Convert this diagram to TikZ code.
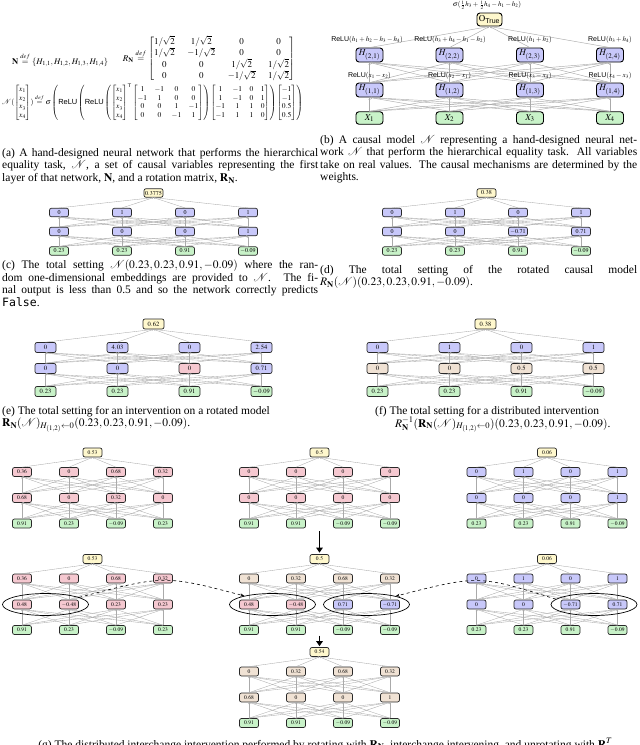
\documentclass[tikz,border=0pt]{standalone}
\usepackage{amsmath}
\usepackage{mathptmx}
\usepackage{fontspec}
\setmainfont{Liberation Serif}
\setsansfont{Liberation Sans}
\setmonofont{DejaVu Sans Mono}
\usetikzlibrary{arrows.meta,shapes.geometric}
\definecolor{cblue}{RGB}{200,200,250}
\definecolor{cgreen}{RGB}{200,242,200}
\definecolor{cyellow}{RGB}{255,248,205}
\definecolor{cpink}{RGB}{245,200,208}
\definecolor{ctan}{RGB}{240,226,212}
\definecolor{cedge}{RGB}{170,170,170}
\definecolor{cborder}{RGB}{40,40,40}
\tikzset{
  nbase/.style={draw=cborder, line width=0.7pt, rounded corners=2pt, inner sep=1pt},
  ndC/.style={nbase, font=\fontsize{6}{6}\selectfont, minimum width=19pt, minimum height=8.5pt},
  ndE/.style={nbase, font=\fontsize{6.5}{6.5}\selectfont, minimum width=21pt, minimum height=10pt},
  ndG/.style={nbase, font=\fontsize{5.5}{5.5}\selectfont, minimum width=19pt, minimum height=9pt},
  netedge/.style={draw=cedge, line width=0.35pt, -{Stealth[length=1.8pt,width=1.6pt]}},
  bedge/.style={draw=cedge, line width=0.45pt, -{Stealth[length=2.5pt,width=2pt]}},
  nbox/.style={draw=black, line width=0.9pt, rounded corners=3pt, minimum width=27pt, minimum height=14pt, inner sep=1pt, font=\fontsize{9}{9}\selectfont},
  lbl/.style={inner sep=0pt, font=\fontsize{7}{7}\selectfont},
  captext/.style={inner sep=0pt, font=\fontsize{11.5}{12.5}\selectfont, align=left},
  ellnode/.style={ellipse, draw=black, line width=0.7pt, minimum width=86pt, minimum height=22pt, inner sep=0pt},
  dasharrow/.style={dashed, line width=0.6pt, -{Stealth[length=4pt,width=3pt]}},
  bigarrow/.style={line width=1.7pt, -{Triangle[length=5pt,width=6.5pt]}},
}
\newcommand\mynet[7]{%
  \node[nd,fill=cyellow] (#1t) at (#2,#3) {$#4$};
  \foreach \fc/\vv [count=\i] in {#5}{\node[nd,fill=\fc] (#1b\i) at ({#2+(\i-2.5)*\gdx},{#3+\gya}) {$\vv$};}
  \foreach \fc/\vv [count=\i] in {#6}{\node[nd,fill=\fc] (#1c\i) at ({#2+(\i-2.5)*\gdx},{#3+\gyb}) {$\vv$};}
  \foreach \fc/\vv [count=\i] in {#7}{\node[nd,fill=\fc] (#1d\i) at ({#2+(\i-2.5)*\gdx},{#3+\gyc}) {$\vv$};}
  \foreach \i in {1,...,4}{\draw[netedge] (#1b\i.north) -- (#1t.south);
    \foreach \j in {1,...,4}{\draw[netedge] (#1c\i.north) -- (#1b\j.south);
      \draw[netedge] (#1d\i.north) -- (#1c\j.south);}}%
}
\newsavebox\rmatbox
\begin{document}
\sbox\rmatbox{\setlength\arraycolsep{7pt}\renewcommand\arraystretch{1.05}$R_{\mathbf{N}}\stackrel{def}{=}\begin{bmatrix}1/\sqrt{2} & 1/\sqrt{2} & 0 & 0\\ 1/\sqrt{2} & -1/\sqrt{2} & 0 & 0\\ 0 & 0 & 1/\sqrt{2} & 1/\sqrt{2}\\ 0 & 0 & -1/\sqrt{2} & 1/\sqrt{2}\end{bmatrix}$}
\begin{tikzpicture}[x=1pt,y=-1pt]
\useasboundingbox (0,0) rectangle (640,745);

% ---------- (a) equations
\node[anchor=west, inner sep=0] (eqN) at (12,60) {\resizebox{96pt}{!}{$\mathbf{N}\stackrel{def}{=}\{H_{1,1},H_{1,2},H_{1,3},H_{1,4}\}$}};
\node[inner sep=0] (eqR) at (209,59) {\resizebox{172pt}{!}{\usebox\rmatbox}};
\node[inner sep=0] (eqF) at (152.5,102) {\resizebox*{301pt}{37pt}{$\mathcal{N}(\begin{bmatrix}x_1\\x_2\\x_3\\x_4\end{bmatrix})\stackrel{def}{=}\sigma\left(\textsf{ReLU}\left(\textsf{ReLU}\left(\begin{bmatrix}x_1\\x_2\\x_3\\x_4\end{bmatrix}^{\mathsf{T}}\begin{bmatrix}1&-1&0&0\\-1&1&0&0\\0&0&1&-1\\0&0&-1&1\end{bmatrix}\right)\begin{bmatrix}1&-1&0&1\\1&-1&0&1\\-1&1&1&0\\-1&1&1&0\end{bmatrix}\right)\begin{bmatrix}-1\\-1\\0.5\\0.5\end{bmatrix}\right)$}};

\node[captext, anchor=north west] (capa) at (2,148) {\makebox[316pt][s]{(a) A hand-designed neural network that performs the hierarchical}\\ \makebox[316pt][s]{equality task, $\mathcal{N}$, a set of causal variables representing the first}\\ layer of that network, $\mathbf{N}$, and a rotation matrix, $\mathbf{R}_{\mathbf{N}}$.};

% ---------- (b) causal model
\foreach \x [count=\i] in {369.5,449.5,530,610}{
  \node[nbox,fill=cgreen,minimum height=12.5pt] (x\i) at (\x,118) {$X_{\i}$};
  \node[nbox,fill=cblue] (ha\i) at (\x,90) {$H_{(1,\i)}$};
  \node[nbox,fill=cblue] (hb\i) at (\x,55) {$H_{(2,\i)}$};
}
\node[nbox,fill=cyellow,minimum width=25pt,minimum height=13pt] (o) at (489.5,19.5) {$\mathrm{O}_{\textsf{True}}$};
\foreach \i in {1,...,4}{
  \draw[bedge] (hb\i.north) -- (o.south);
  \foreach \j in {1,...,4}{
    \draw[bedge] (x\i.north) -- (ha\j.south);
    \draw[bedge] (ha\i.north) -- (hb\j.south);
  }
}
\node[lbl] (sig) at (487,5) {$\sigma(\tfrac{1}{2}h_3+\tfrac{1}{2}h_4-h_1-h_2)$};
\node[lbl] (lb1) at (367,40) {\textsf{ReLU}$(h_1+h_2-h_3-h_4)$};
\node[lbl] (lb2) at (450,40) {\textsf{ReLU}$(h_3+h_4-h_1-h_2)$};
\node[lbl] (lb3) at (530,40) {\textsf{ReLU}$(h_1+h_2)$};
\node[lbl] (lb4) at (610,40) {\textsf{ReLU}$(h_3+h_4)$};
\node[lbl] (la1) at (369.5,76) {\textsf{ReLU}$(x_1-x_2)$};
\node[lbl] (la2) at (449.5,76) {\textsf{ReLU}$(x_2-x_1)$};
\node[lbl] (la3) at (530,76) {\textsf{ReLU}$(x_3-x_4)$};
\node[lbl] (la4) at (610,76) {\textsf{ReLU}$(x_4-x_3)$};

\node[captext, anchor=north west] (capb) at (320,135) {\makebox[317pt][s]{(b) A causal model $\mathcal{N}$ representing a hand-designed neural net-}\\ \makebox[317pt][s]{work $\mathcal{N}$ that perform the hierarchical equality task. All variables}\\ \makebox[317pt][s]{take on real values. The causal mechanisms are determined by the}\\ weights.};

% ---------- (c), (d)
\tikzset{nd/.style={ndC}}
\def\gdx{63}\def\gya{19.5}\def\gyb{38.5}\def\gyc{58}
\mynet{pc}{153.5}{193}{0.3775}{cblue/0,cblue/1,cblue/0,cblue/1}{cblue/0,cblue/0,cblue/0,cblue/1}{cgreen/0.23,cgreen/0.23,cgreen/0.91,cgreen/-0.09}
\mynet{pd}{486.5}{193}{0.38}{cblue/0,cblue/1,cblue/0,cblue/1}{cblue/0,cblue/0,cblue/-0.71,cblue/0.71}{cgreen/0.23,cgreen/0.23,cgreen/0.91,cgreen/-0.09}

\node[captext, anchor=north west] (capc) at (2,260) {\makebox[316pt][s]{(c) The total setting $\mathcal{N}(0.23,0.23,0.91,-0.09)$ where the ran-}\\ \makebox[316pt][s]{dom one-dimensional embeddings are provided to $\mathcal{N}$. The fi-}\\ \makebox[316pt][s]{nal output is less than 0.5 and so the network correctly predicts}\\ \texttt{False}.};
\node[captext, anchor=north west] (capd) at (320,265) {\makebox[317pt][s]{(d) The total setting of the rotated causal model}\\ $R_{\mathbf{N}}(\mathcal{N})(0.23,0.23,0.91,-0.09)$.};

% ---------- (e), (f)
\tikzset{nd/.style={ndE}}
\def\gdx{72}\def\gya{23.5}\def\gyb{44.5}\def\gyc{67.5}
\mynet{pe}{153.5}{324}{0.62}{cblue/0,cblue/4.03,cblue/0,cblue/2.54}{cblue/0,cblue/0,cpink/0,cblue/0.71}{cgreen/0.23,cgreen/0.23,cgreen/0.91,cgreen/-0.09}
\mynet{pf}{485.5}{324}{0.38}{cblue/0,cblue/1,cblue/0,cblue/1}{ctan/0,ctan/0,ctan/0.5,ctan/0.5}{cgreen/0.23,cgreen/0.23,cgreen/0.91,cgreen/-0.09}

\node[captext, anchor=north west] (cape) at (2,406) {(e) The total setting for an intervention on a rotated model\\ $\mathbf{R}_{\mathbf{N}}(\mathcal{N})_{H_{(1,2)}\leftarrow 0}(0.23,0.23,0.91,-0.09)$.};
\node[captext, anchor=base west] (capf1) at (375,414) {(f) The total setting for a distributed intervention};
\node[captext, anchor=base west] (capf2) at (395,427) {$R_{\mathbf{N}}^{-1}(\mathbf{R}_{\mathbf{N}}(\mathcal{N})_{H_{(1,2)}\leftarrow 0})(0.23,0.23,0.91,-0.09)$.};

% ---------- (g)
\tikzset{nd/.style={ndG}}
\def\gdx{47}\def\gya{19.5}\def\gyb{45.5}\def\gyc{71}
\mynet{gtl}{92.5}{452.5}{0.53}{cpink/0.36,cpink/0,cpink/0.68,cpink/0.32}{cpink/0.68,cpink/0,cpink/0.32,cpink/0}{cgreen/0.91,cgreen/0.23,cgreen/-0.09,cgreen/0.23}
\mynet{gtm}{319.5}{452.5}{0.5}{cpink/0,cpink/0,cpink/0,cpink/0}{cpink/0,cpink/0,cpink/0,cpink/0}{cgreen/0.91,cgreen/0.91,cgreen/-0.09,cgreen/-0.09}
\mynet{gtr}{547}{452.5}{0.06}{cblue/0,cblue/1,cblue/0,cblue/1}{cblue/0,cblue/0,cblue/0,cblue/1}{cgreen/0.23,cgreen/0.23,cgreen/0.91,cgreen/-0.09}
\mynet{gml}{92.5}{559}{0.53}{cpink/0.36,cpink/0,cpink/0.68,cpink/0.32}{cpink/0.48,cpink/-0.48,cpink/0.23,cpink/0.23}{cgreen/0.91,cgreen/0.23,cgreen/-0.09,cgreen/0.23}
\mynet{gmm}{319.5}{559}{0.5}{ctan/0,ctan/0.32,ctan/0.68,ctan/0.32}{cpink/0.48,cpink/-0.48,cblue/0.71,cblue/-0.71}{cgreen/0.91,cgreen/0.91,cgreen/-0.09,cgreen/-0.09}
\mynet{gmr}{547}{559}{0.06}{cblue/0,cblue/1,cblue/0,cblue/1}{cblue/0,cblue/0,cblue/-0.71,cblue/0.71}{cgreen/0.23,cgreen/0.23,cgreen/0.91,cgreen/-0.09}
\mynet{gb}{319.5}{652}{0.54}{ctan/0,ctan/0.32,ctan/0.68,ctan/0.32}{ctan/0.68,ctan/0,ctan/0,ctan/1}{cgreen/0.91,cgreen/0.91,cgreen/-0.09,cgreen/-0.09}

\node[ellnode] (el1) at (45.5,604.5) {};
\node[ellnode] (el2) at (272.5,604.5) {};
\node[ellnode] (el3) at (366.5,604.5) {};
\node[ellnode] (el4) at (594,604.5) {};
\draw[dasharrow] (el1.12) .. controls (164.5,575) .. (el2.163);
\draw[dasharrow] (el4.172) .. controls (478.5,575) .. (el3.16);

\coordinate (ar1) at (319.5,531);
\draw[bigarrow, shorten >=1.5pt] (ar1) -- (gmmt.north);
\coordinate (ar2) at (319.5,635.5);
\draw[bigarrow, shorten >=1pt] (ar2) -- (gbt.north);

\node[captext, anchor=base] (capg) at (327,748) {(g) The distributed interchange intervention performed by rotating with $\mathbf{R}_{\mathbf{N}}$, interchange intervening, and unrotating with $\mathbf{R}^{T}_{\mathbf{N}}$.};
\end{tikzpicture}
\end{document}
